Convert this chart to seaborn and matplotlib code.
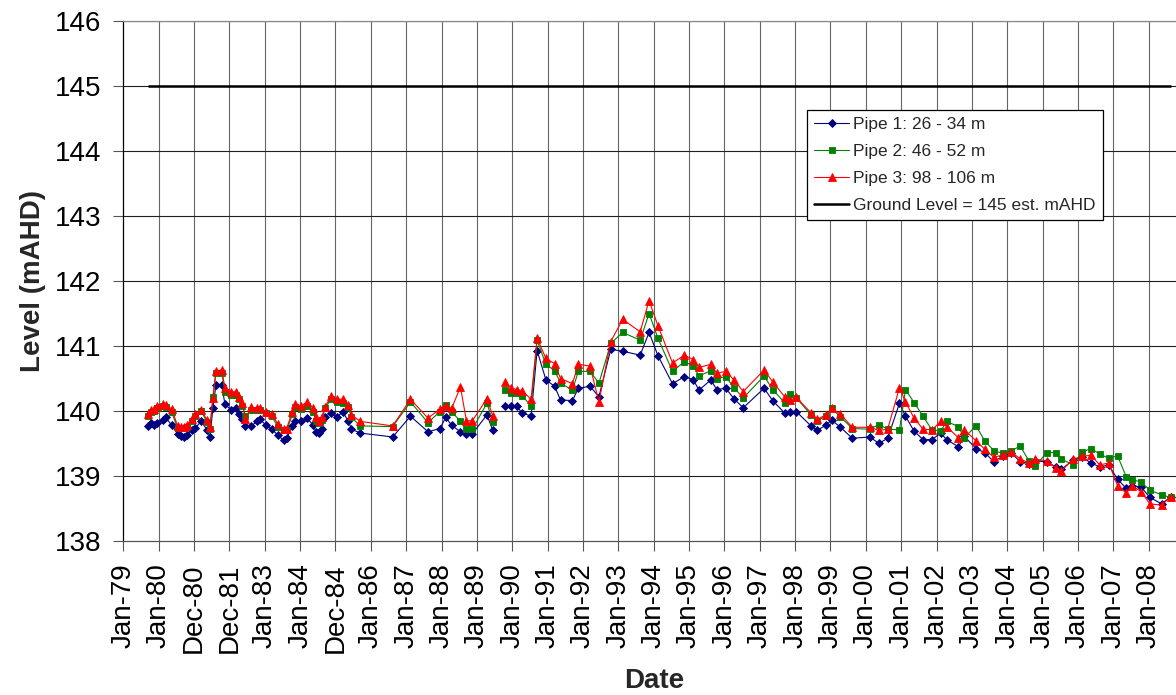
import numpy as np
import pandas as pd
import matplotlib
matplotlib.use("Agg")
import matplotlib.pyplot as plt
import matplotlib.dates as mdates
from matplotlib.lines import Line2D
import seaborn as sns

# ---------------------------------------------------------------------------
# Monitoring bore water levels (mAHD), sampled on the months below
# ---------------------------------------------------------------------------
SAMPLE_MONTHS = [
    "1979-09", "1979-10", "1979-11", "1979-12", "1980-02", "1980-03", "1980-05",
    "1980-07", "1980-08", "1980-09", "1980-10", "1980-12", "1981-01", "1981-03",
    "1981-05", "1981-06", "1981-07", "1981-08", "1981-10", "1981-11", "1982-01",
    "1982-03", "1982-04", "1982-05", "1982-06", "1982-08", "1982-10", "1982-11",
    "1983-01", "1983-03", "1983-05", "1983-07", "1983-08", "1983-10", "1983-11",
    "1984-01", "1984-03", "1984-05", "1984-06", "1984-07", "1984-08", "1984-09",
    "1984-11", "1985-01", "1985-03", "1985-05", "1985-06", "1985-09", "1986-08",
    "1987-02", "1987-08", "1987-12", "1988-02", "1988-04", "1988-07", "1988-09",
    "1988-11", "1989-04", "1989-06",
    "1989-10", "1989-12", "1990-02", "1990-04", "1990-07", "1990-09", "1990-12",
    "1991-03", "1991-05", "1991-09", "1991-11", "1992-03", "1992-06", "1992-10",
    "1993-02", "1993-08", "1993-11", "1994-02", "1994-07", "1994-11", "1995-02",
    "1995-04", "1995-08", "1995-10", "1996-01", "1996-04", "1996-07", "1997-02",
    "1997-05", "1997-09", "1997-11", "1998-01", "1998-06", "1998-08", "1998-11",
    "1999-01", "1999-04", "1999-08", "2000-02", "2000-05", "2000-08", "2000-12",
    "2001-02", "2001-05", "2001-08", "2001-11", "2002-02", "2002-04", "2002-08",
    "2002-10", "2003-02", "2003-05", "2003-08", "2003-11", "2004-02", "2004-05",
    "2004-08", "2004-10", "2005-02", "2005-05", "2005-07", "2005-11", "2006-02",
    "2006-05", "2006-08", "2006-11", "2007-02", "2007-05", "2007-07", "2007-10",
    "2008-01", "2008-05", "2008-08",
]

# monitoring resumed after a break in mid 1989
RECORD_RESUMED = "1989-10"

PIPE1 = [  # 26 - 34 m
    139.77, 139.82, 139.79, 139.81, 139.86, 139.90, 139.78,
    139.65, 139.62, 139.60, 139.63, 139.71, 139.74, 139.84,
    139.71, 139.60, 140.05, 140.40, 140.40, 140.11, 140.02,
    140.04, 139.95, 139.88, 139.77, 139.77, 139.84, 139.87,
    139.78, 139.72, 139.63, 139.55, 139.58, 139.77, 139.85,
    139.84, 139.89, 139.78, 139.68, 139.66, 139.73, 139.91,
    139.97, 139.90, 139.99, 139.84, 139.72, 139.66, 139.60,
    139.92, 139.68, 139.73, 139.90, 139.78, 139.68, 139.65,
    139.65, 139.94, 139.70,
    140.08, 140.07, 140.07, 139.97, 139.92, 140.93, 140.48,
    140.38, 140.17, 140.16, 140.35, 140.38, 140.22, 140.95,
    140.92, 140.86, 141.21, 140.85, 140.42, 140.53, 140.48,
    140.32, 140.48, 140.33, 140.35, 140.18, 140.05, 140.35,
    140.16, 139.97, 139.99, 139.99, 139.77, 139.70, 139.78,
    139.86, 139.75, 139.58, 139.60, 139.50, 139.58, 140.12,
    139.92, 139.69, 139.56, 139.56, 139.66, 139.56, 139.45,
    139.61, 139.42, 139.36, 139.22, 139.30, 139.35, 139.22,
    139.19, 139.23, 139.22, 139.14, 139.10, 139.25, 139.29,
    139.20, 139.14, 139.17, 138.95, 138.81, 138.85, 138.83,
    138.67, 138.57, 138.68,
]

PIPE2 = [  # 46 - 52 m
    139.92, 139.98, 140.00, 140.05, 140.07, 140.06, 139.98,
    139.74, 139.74, 139.74, 139.76, 139.85, 139.93, 140.00,
    139.83, 139.73, 140.22, 140.58, 140.58, 140.30, 140.24,
    140.25, 140.18, 140.08, 139.92, 140.02, 140.02, 140.01,
    139.97, 139.92, 139.76, 139.70, 139.70, 139.95, 140.06,
    140.03, 140.08, 139.99, 139.85, 139.81, 139.86, 140.04,
    140.18, 140.14, 140.13, 140.06, 139.90, 139.77, 139.76,
    140.14, 139.82, 139.99, 140.09, 139.99, 139.84, 139.72,
    139.72, 140.12, 139.83,
    140.32, 140.28, 140.27, 140.23, 140.08, 141.09, 140.72,
    140.62, 140.43, 140.32, 140.61, 140.61, 140.43, 141.04,
    141.21, 141.09, 141.50, 141.12, 140.61, 140.76, 140.69,
    140.54, 140.62, 140.50, 140.53, 140.35, 140.20, 140.54,
    140.33, 140.13, 140.26, 140.20, 139.94, 139.85, 139.92,
    140.04, 139.91, 139.73, 139.72, 139.79, 139.72, 139.71,
    140.33, 140.13, 139.92, 139.71, 139.69, 139.84, 139.76,
    139.59, 139.77, 139.54, 139.39, 139.35, 139.39, 139.46,
    139.23, 139.15, 139.36, 139.36, 139.26, 139.17, 139.37,
    139.42, 139.34, 139.27, 139.31, 138.99, 138.94, 138.91,
    138.78, 138.71, 138.67,
]

PIPE3 = [  # 98 - 106 m
    139.96, 140.02, 140.03, 140.08, 140.11, 140.09, 140.03,
    139.77, 139.76, 139.76, 139.78, 139.87, 139.96, 140.02,
    139.86, 139.76, 140.20, 140.62, 140.63, 140.36, 140.29,
    140.30, 140.22, 140.13, 139.87, 140.06, 140.04, 140.04,
    139.99, 139.96, 139.80, 139.73, 139.73, 139.99, 140.11,
    140.08, 140.14, 140.04, 139.90, 139.84, 139.90, 140.06,
    140.23, 140.18, 140.18, 140.09, 139.94, 139.84, 139.77,
    140.18, 139.89, 140.03, 140.08, 140.04, 140.37, 139.85,
    139.85, 140.19, 139.92,
    140.45, 140.36, 140.33, 140.31, 140.18, 141.12, 140.81,
    140.73, 140.50, 140.42, 140.72, 140.69, 140.14, 141.07,
    141.41, 141.22, 141.70, 141.31, 140.74, 140.86, 140.79,
    140.67, 140.72, 140.58, 140.61, 140.47, 140.30, 140.63,
    140.45, 140.22, 140.17, 140.21, 139.97, 139.87, 139.94,
    140.04, 139.95, 139.75, 139.75, 139.70, 139.72, 140.36,
    140.14, 139.89, 139.72, 139.71, 139.84, 139.76, 139.59,
    139.71, 139.54, 139.41, 139.29, 139.32, 139.37, 139.26,
    139.20, 139.26, 139.23, 139.13, 139.08, 139.26, 139.30,
    139.32, 139.17, 139.20, 138.85, 138.74, 138.85, 138.76,
    138.57, 138.55, 138.68,
]

PIPE_NAMES = ["Pipe 1: 26 - 34 m", "Pipe 2: 46 - 52 m", "Pipe 3: 98 - 106 m"]
GROUND_LEVEL = 145.0
GROUND_NAME = "Ground Level = 145 est. mAHD"

# date axis: one major step (365.3 days) from 1 Jan 1979
AXIS_START = "1979-01-01"
TICK_LABELS = [
    "Jan-79", "Jan-80", "Dec-80", "Dec-81", "Jan-83", "Jan-84", "Dec-84",
    "Jan-86", "Jan-87", "Jan-88", "Jan-89", "Jan-90", "Jan-91", "Jan-92",
    "Jan-93", "Jan-94", "Jan-95", "Jan-96", "Jan-97", "Jan-98", "Jan-99",
    "Jan-00", "Jan-01", "Jan-02", "Jan-03", "Jan-04", "Jan-05", "Jan-06",
    "Jan-07", "Jan-08",
]
Y_TICKS = [138, 139, 140, 141, 142, 143, 144, 145, 146]

# ---------------------------------------------------------------------------
# Long-form table
# ---------------------------------------------------------------------------
dates = pd.to_datetime([m + "-15" for m in SAMPLE_MONTHS])
run = (dates >= pd.Timestamp(RECORD_RESUMED + "-01")).astype(int)
frames = []
for name, vals in zip(PIPE_NAMES, [PIPE1, PIPE2, PIPE3]):
    frames.append(pd.DataFrame({"date": dates, "level": vals,
                                "pipe": name, "run": run}))
df = pd.concat(frames, ignore_index=True)

# ---------------------------------------------------------------------------
# Figure
# ---------------------------------------------------------------------------
sns.set_theme(style="white")
plt.rcParams["font.family"] = ["Liberation Sans", "DejaVu Sans"]

W, H = 1176, 695
fig = plt.figure(figsize=(W / 100, H / 100), dpi=100)
left_px, right_px, top_px, bottom_px = 123.3, 1176.0, 21.3, 540.9
ax = fig.add_axes([left_px / W, (H - bottom_px) / H,
                   (right_px - left_px) / W, (bottom_px - top_px) / H])

styles = {
    PIPE_NAMES[0]: dict(color="#000080", marker="D", markersize=4.0),
    PIPE_NAMES[1]: dict(color="#008000", marker="s", markersize=4.4),
    PIPE_NAMES[2]: dict(color="#FF0000", marker="^", markersize=5.8),
}

for name in PIPE_NAMES:
    st = styles[name]
    sns.lineplot(data=df[df["pipe"] == name], x="date", y="level",
                 units="run", estimator=None, ax=ax,
                 color=st["color"], marker=st["marker"],
                 markersize=st["markersize"], markeredgewidth=0.6,
                 markeredgecolor=st["color"], markerfacecolor=st["color"],
                 linewidth=0.8, legend=False, zorder=4)

# ground surface reference
ax.hlines(GROUND_LEVEL, dates.min(), dates.max(), color="black",
          linewidth=1.8, zorder=3)

# x axis: fixed step ticks
t0 = mdates.date2num(pd.Timestamp(AXIS_START))
step = 365.3
xticks = [t0 + k * step for k in range(len(TICK_LABELS))]
ax.set_xticks(xticks)
ax.set_xticklabels(TICK_LABELS, rotation=90)
span = (right_px - left_px) / ((1148.7 - 123.3) / 29.0)
ax.set_xlim(t0, t0 + span * step)

ax.set_ylim(138, 146)
ax.set_yticks(Y_TICKS)
ax.set_yticklabels([str(v) for v in Y_TICKS])

# grid
ax.grid(False)
ax.set_axisbelow(True)
for x in xticks[1:]:
    ax.axvline(x, color="#666666", linewidth=0.8, zorder=1)
for y in Y_TICKS[1:]:
    ax.axhline(y, color="#202020", linewidth=0.8, zorder=1)

ax.spines["left"].set_color("black")
ax.spines["left"].set_linewidth(0.9)
ax.spines["bottom"].set_color("#555555")
ax.spines["bottom"].set_linewidth(0.9)
ax.spines["top"].set_color("#8a8a8a")
ax.spines["top"].set_linewidth(0.9)
ax.spines["right"].set_visible(False)

ax.tick_params(axis="both", direction="out", length=7, width=0.8,
               color="#555555", labelsize=20, labelcolor="black", pad=9,
               bottom=True, left=True)

ax.set_xlabel("Date", fontsize=20, fontweight="bold")
ax.set_ylabel("Level (mAHD)", fontsize=20, fontweight="bold")
ax.xaxis.set_label_coords((654.5 - left_px) / (right_px - left_px),
                          (bottom_px - 668.0) / (bottom_px - top_px))
ax.yaxis.set_label_coords((46.0 - left_px) / (right_px - left_px), 0.5)

# legend
handles = [
    Line2D([], [], color=styles[n]["color"], marker=styles[n]["marker"],
           markersize=styles[n]["markersize"] - 0.4, markeredgewidth=0.6,
           linewidth=0.8)
    for n in PIPE_NAMES
]
handles.append(Line2D([], [], color="black", linewidth=1.8))
leg = ax.legend(handles, PIPE_NAMES + [GROUND_NAME], loc="upper left",
                bbox_to_anchor=((807.3 - left_px) / (right_px - left_px),
                                (bottom_px - 110.0) / (bottom_px - top_px)),
                borderaxespad=0, frameon=True, fancybox=False,
                edgecolor="black", framealpha=1, fontsize=12.5,
                handlelength=2.0, handletextpad=0.25, labelspacing=0.68,
                borderpad=0.4)
leg.get_frame().set_linewidth(0.9)
leg.set_zorder(6)

fig.savefig("out.png", dpi=100)
